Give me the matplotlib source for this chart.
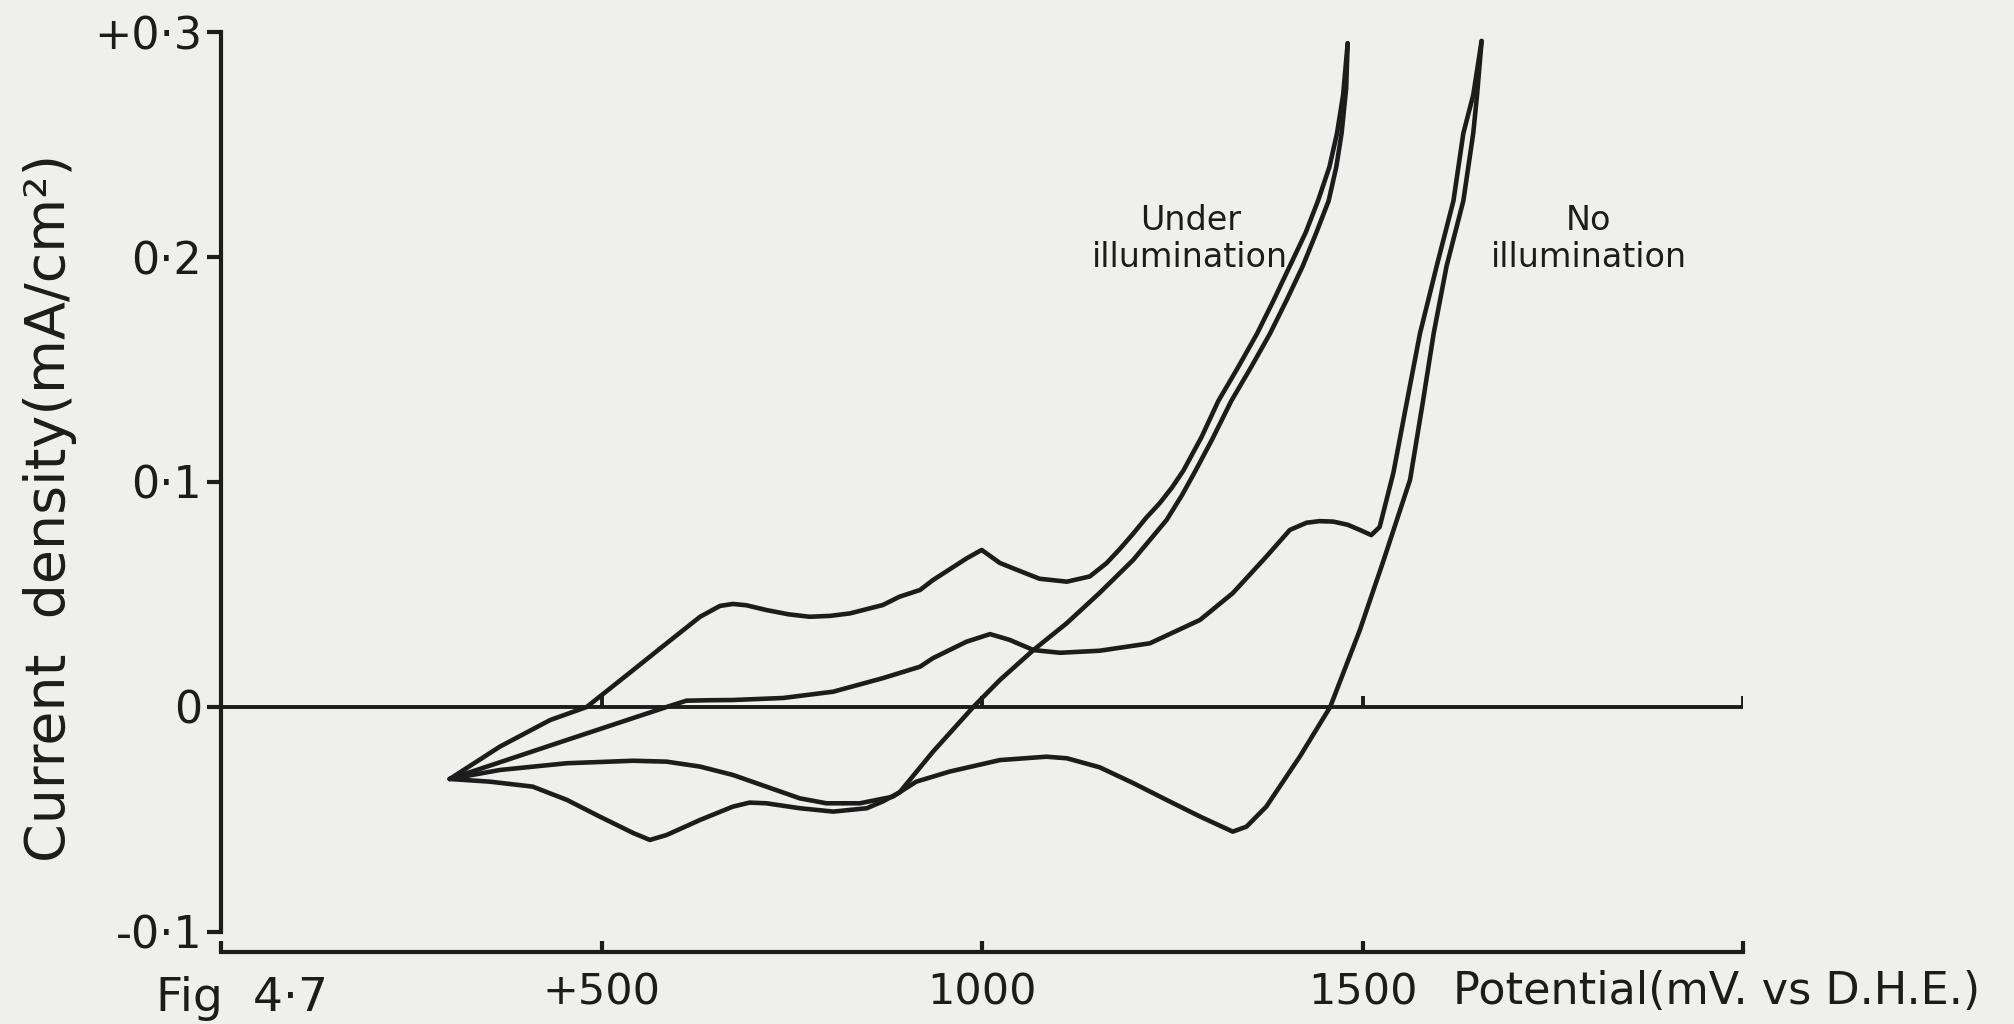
import numpy as np
import matplotlib
matplotlib.use('Agg')
import matplotlib.pyplot as plt

plt.rcParams['font.family'] = ['DejaVu Sans']

# potential (mV vs D.H.E.) and current density (mA/cm^2)
# under illumination, forward (anodic) sweep
v_light_fwd = [300, 366, 432, 480, 541, 585, 629, 655, 672, 690, 716, 745, 773, 800, 826,
               869, 891, 918, 935, 979, 999, 1023, 1045, 1075, 1111, 1141, 1163, 1180, 1198,
               1215, 1233, 1249, 1264, 1288, 1310, 1336, 1361, 1383, 1404, 1425, 1441, 1456,
               1466, 1474, 1480]
i_light_fwd = [-0.032, -0.0176, -0.0058, 0.0, 0.0164, 0.0283, 0.0401, 0.0449, 0.0458, 0.0452,
               0.0431, 0.0412, 0.0401, 0.0405, 0.0416, 0.0453, 0.049, 0.052, 0.0564, 0.066,
               0.0698, 0.064, 0.061, 0.057, 0.0557, 0.058, 0.0639, 0.070, 0.077, 0.084, 0.0906,
               0.0975, 0.105, 0.120, 0.136, 0.151, 0.166, 0.181, 0.196, 0.211, 0.225, 0.240,
               0.255, 0.272, 0.295]
# under illumination, reverse (cathodic) sweep
v_light_rev = [1480, 1478, 1472, 1465, 1455, 1439, 1421, 1400, 1378, 1353, 1327, 1302, 1280,
               1262, 1242, 1198, 1154, 1111, 1067, 1023, 988, 935, 891, 869, 848, 804, 760,
               716, 694, 672, 629, 585, 563, 541, 497, 454, 409, 353, 300]
i_light_rev = [0.295, 0.275, 0.255, 0.240, 0.225, 0.211, 0.196, 0.181, 0.166, 0.151, 0.136,
               0.119, 0.105, 0.094, 0.0831, 0.0653, 0.0507, 0.0373, 0.0253, 0.012, 0.0, -0.0199,
               -0.038, -0.042, -0.045, -0.0465, -0.045, -0.0428, -0.0425, -0.0443, -0.0502,
               -0.0569, -0.0591, -0.056, -0.0487, -0.0413, -0.0354, -0.0332, -0.032]
# no illumination, forward sweep
v_dark_fwd = [300, 442, 585, 611, 640, 672, 738, 804, 869, 918, 935, 979, 1010, 1036, 1067,
              1102, 1154, 1220, 1286, 1329, 1373, 1404, 1426, 1443, 1461, 1480, 1496, 1511,
              1522, 1540, 1558, 1575, 1597, 1619, 1632, 1645, 1656]
i_dark_fwd = [-0.032, -0.016, 0.0, 0.0028, 0.003, 0.0031, 0.004, 0.0068, 0.0128, 0.0179, 0.0217,
              0.029, 0.0324, 0.0298, 0.0253, 0.0241, 0.025, 0.0283, 0.0387, 0.0506, 0.0668,
              0.0787, 0.0819, 0.0826, 0.0824, 0.081, 0.0787, 0.0764, 0.080, 0.104, 0.136, 0.166,
              0.196, 0.225, 0.255, 0.272, 0.296]
# no illumination, reverse sweep
v_dark_rev = [1656, 1650, 1645, 1632, 1610, 1593, 1579, 1562, 1526, 1496, 1457, 1417, 1373,
              1347, 1329, 1286, 1242, 1198, 1154, 1111, 1084, 1023, 957, 913, 882, 839, 795,
              760, 716, 672, 629, 585, 541, 454, 366, 300]
i_dark_rev = [0.296, 0.272, 0.255, 0.225, 0.196, 0.166, 0.136, 0.101, 0.064, 0.0342, 0.0,
              -0.0221, -0.0443, -0.0532, -0.0554, -0.0487, -0.0413, -0.0338, -0.0268, -0.0228,
              -0.0221, -0.0236, -0.0287, -0.0332, -0.0399, -0.0428, -0.0428, -0.0406, -0.0354,
              -0.0302, -0.0265, -0.0243, -0.0239, -0.025, -0.028, -0.032]

yticks = [-0.1, 0.0, 0.1, 0.2, 0.3]
ytick_labels = ['-0·1', '0', '0·1', '0·2', '+0·3']
xticks = [0, 500, 1000, 1500, 2000]
xtick_labels = ['', '+500', '1000', '1500', '']

ink = '#1c1c1c'
paper = '#efefed'

fig = plt.figure(figsize=(20.15, 10.24), dpi=100, facecolor=paper)
ax = fig.add_axes([0.1099, 0.0679, 0.7553, 0.9228])
ax.set_facecolor(paper)
ax.set_xlim(0, 2000)
ax.set_ylim(-0.11, 0.31)

for v, i in [(v_light_fwd, i_light_fwd), (v_light_rev, i_light_rev),
             (v_dark_fwd, i_dark_fwd), (v_dark_rev, i_dark_rev)]:
    ax.plot(v, i, color=ink, lw=3.3, solid_joinstyle='round', solid_capstyle='round')

# zero current line with its small ticks
ax.axhline(0, color=ink, lw=2.8)
ax.vlines(xticks[1:], 0, 0.005, color=ink, lw=2.8)

ax.spines['top'].set_visible(False)
ax.spines['right'].set_visible(False)
ax.spines['left'].set_bounds(-0.1, 0.3)
ax.spines['bottom'].set_position(('data', -0.109))
ax.spines['bottom'].set_bounds(0, 2000)
for s in ['left', 'bottom']:
    ax.spines[s].set_linewidth(3.0)
    ax.spines[s].set_color(ink)

ax.set_yticks(yticks)
ax.set_yticklabels(ytick_labels)
ax.set_xticks(xticks)
ax.set_xticklabels(xtick_labels)
ax.tick_params(axis='y', direction='out', length=10, width=3, pad=4, labelsize=32, colors=ink)
ax.tick_params(axis='x', direction='in', length=8, width=3, pad=14, labelsize=31, colors=ink)

ax.text(1618, -0.132, 'Potential(mV. vs D.H.E.)', fontsize=32, color=ink,
        ha='left', va='baseline', clip_on=False)
fig.text(0.0248, 0.504, 'Current  density(mA/cm²)', rotation=90, fontsize=40,
         color=ink, ha='center', va='center')

ax.text(1273, 0.2082, 'Under\nillumination', fontsize=24, color=ink,
        ha='center', va='center', linespacing=1.15)
ax.text(1797, 0.2082, 'No\nillumination', fontsize=24, color=ink,
        ha='center', va='center', linespacing=1.15)

fig.text(0.0774, 0.0125, 'Fig  4·7', fontsize=34, color=ink, ha='left', va='baseline')

fig.savefig('out.png', dpi=100, facecolor=paper)
